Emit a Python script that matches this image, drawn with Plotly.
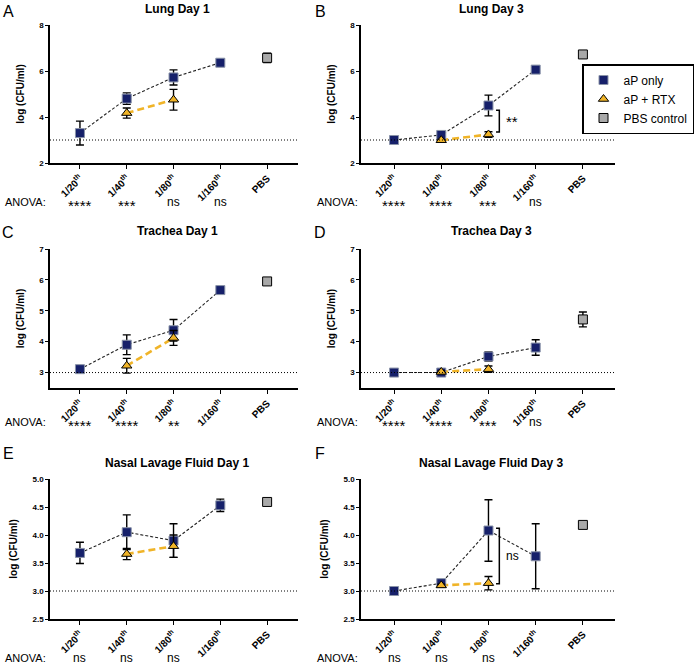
import plotly.graph_objects as go

W, H = 696, 665

categories = ["1/20", "1/40", "1/80", "1/160", "PBS"]
tick_labels = ["1/20<sup>th</sup>", "1/40<sup>th</sup>", "1/80<sup>th</sup>", "1/160<sup>th</sup>", "PBS"]

# Panel A: Lung Day 1
A_ap = [3.30, 4.80, 5.72, 6.36]
A_ap_err = [0.52, 0.25, 0.33, 0.05]
A_rtx = [None, 4.17, 4.75, None]
A_rtx_err = [0, 0.22, 0.45, 0]
A_pbs = 6.57
A_pbs_err = 0.2
A_anova = ["****", "***", "ns", "ns"]

# Panel B: Lung Day 3
B_ap = [3.00, 3.22, 4.50, 6.06]
B_ap_err = [0.04, 0.06, 0.45, 0.1]
B_rtx = [None, 2.99, 3.24, None]
B_rtx_err = [0, 0.03, 0.12, 0]
B_pbs = 6.72
B_pbs_err = 0.15
B_anova = ["****", "****", "***", "ns"]

# Panel C: Trachea Day 1
C_ap = [3.11, 3.90, 4.37, 5.67]
C_ap_err = [0.04, 0.32, 0.35, 0.04]
C_rtx = [None, 3.22, 4.12, None]
C_rtx_err = [0, 0.24, 0.24, 0]
C_pbs = 5.95
C_pbs_err = 0.06
C_anova = ["****", "****", "**"]

# Panel D: Trachea Day 3
D_ap = [3.00, 3.00, 3.52, 3.81]
D_ap_err = [0.02, 0.05, 0.15, 0.25]
D_rtx = [None, 3.02, 3.11, None]
D_rtx_err = [0, 0.03, 0.1, 0]
D_pbs = 4.72
D_pbs_err = 0.24
D_anova = ["****", "****", "***", "ns"]

# Panel E: Nasal Lavage Fluid Day 1
E_ap = [3.68, 4.05, 3.90, 4.53]
E_ap_err = [0.19, 0.31, 0.30, 0.11]
E_rtx = [None, 3.66, 3.80, None]
E_rtx_err = [0, 0.10, 0.20, 0]
E_pbs = 4.59
E_pbs_err = 0.03
E_anova = ["ns", "ns", "ns"]

# Panel F: Nasal Lavage Fluid Day 3
F_ap = [3.00, 3.14, 4.08, 3.62]
F_ap_err = [0.02, 0.03, 0.55, 0.58]
F_rtx = [None, 3.10, 3.14, None]
F_rtx_err = [0, 0.02, 0.12, 0]
F_pbs = 4.18
F_pbs_err = 0.03
F_anova = ["ns", "ns", "ns"]

lod = 3.0

NAVY = "#16206a"
GOLD = "#f0b428"
GRAY = "#a9a9a9"
FONT = "Liberation Sans, Arial, sans-serif"


def px_x(x):
    return x / W


def px_y(y):
    return 1 - y / H


panels = [
    dict(key="A", title="Lung Day 1", ap=A_ap, ape=A_ap_err, rtx=A_rtx, rtxe=A_rtx_err, pbs=A_pbs, pbse=A_pbs_err,
         anova=A_anova, col=0, row=0, yr=[2, 8], dt=2, fmt="d", bracket=None),
    dict(key="B", title="Lung Day 3", ap=B_ap, ape=B_ap_err, rtx=B_rtx, rtxe=B_rtx_err, pbs=B_pbs, pbse=B_pbs_err,
         anova=B_anova, col=1, row=0, yr=[2, 8], dt=2, fmt="d", bracket=(4.29, 3.35, "**")),
    dict(key="C", title="Trachea Day 1", ap=C_ap, ape=C_ap_err, rtx=C_rtx, rtxe=C_rtx_err, pbs=C_pbs, pbse=C_pbs_err,
         anova=C_anova, col=0, row=1, yr=[2.5, 7], dt=1, fmt="d", bracket=None),
    dict(key="D", title="Trachea Day 3", ap=D_ap, ape=D_ap_err, rtx=D_rtx, rtxe=D_rtx_err, pbs=D_pbs, pbse=D_pbs_err,
         anova=D_anova, col=1, row=1, yr=[2.5, 7], dt=1, fmt="d", bracket=None),
    dict(key="E", title="Nasal Lavage Fluid Day 1", ap=E_ap, ape=E_ap_err, rtx=E_rtx, rtxe=E_rtx_err, pbs=E_pbs,
         pbse=E_pbs_err, anova=E_anova, col=0, row=2, yr=[2.5, 5.0], dt=0.5, fmt=".1f", bracket=None),
    dict(key="F", title="Nasal Lavage Fluid Day 3", ap=F_ap, ape=F_ap_err, rtx=F_rtx, rtxe=F_rtx_err, pbs=F_pbs,
         pbse=F_pbs_err, anova=F_anova, col=1, row=2, yr=[2.5, 5.0], dt=0.5, fmt=".1f", bracket=(4.12, 3.13, "ns")),
]

# layout geometry in pixels
col_x = [(50, 298), (361, 615)]
col_range = [[-0.64, 4.66], [-0.70, 4.68]]
row_y = [(25, 163), (249, 388), (479, 619)]
title_y = [9, 231, 463]
anova_y = [202, 422, 658]
letter_y = [12, 233, 453]
letter_x = [8, 320]
anova_x = [3, 315]

fig = go.Figure()
layout = dict(
    width=W, height=H, margin=dict(l=0, r=0, t=0, b=0),
    paper_bgcolor="white", plot_bgcolor="white",
    font=dict(family=FONT, color="black"),
    showlegend=True,
    legend=dict(x=px_x(694), y=px_y(64), xanchor="right", yanchor="top",
                bordercolor="black", borderwidth=1.5, bgcolor="white",
                font=dict(size=12, family=FONT), tracegroupgap=0,
                itemwidth=30),
)
annotations = []
shapes = []

for i, p in enumerate(panels):
    n = "" if i == 0 else str(i + 1)
    xa, ya = "x" + n, "y" + n
    x0, x1 = col_x[p["col"]]
    y0, y1 = row_y[p["row"]]
    layout["xaxis" + n] = dict(
        domain=[px_x(x0), px_x(x1)], anchor=ya, type="category",
        categoryorder="array", categoryarray=categories,
        range=col_range[p["col"]], showline=True, linecolor="black", linewidth=1.5,
        ticks="outside", ticklen=4, tickwidth=1.2, tickcolor="black",
        tickvals=categories, ticktext=tick_labels,
        tickangle=-45, tickfont=dict(size=10, family=FONT, weight="bold"), showgrid=False, zeroline=False,
        automargin=False, fixedrange=True,
    )
    layout["yaxis" + n] = dict(
        domain=[px_y(y1), px_y(y0)], anchor=xa, range=p["yr"], dtick=p["dt"],
        tickformat=p["fmt"], showline=True, linecolor="black", linewidth=1.5,
        ticks="outside", ticklen=3, tickwidth=1.2, tickcolor="black",
        tickfont=dict(size=8, family=FONT, weight="bold"), showgrid=False, zeroline=False,
        title=dict(text="<b>log (CFU/ml)</b>", font=dict(size=10, family=FONT), standoff=13),
        automargin=False, fixedrange=True,
    )
    show = (p["key"] == "B")
    # lines
    fig.add_trace(go.Scatter(x=categories[:4], y=p["ap"], mode="lines", xaxis=xa, yaxis=ya,
                             line=dict(color="#222222", width=1.1, dash="3px,2px"), showlegend=False,
                             hoverinfo="skip"))
    fig.add_trace(go.Scatter(x=categories[:4], y=p["rtx"], mode="lines", xaxis=xa, yaxis=ya,
                             line=dict(color=GOLD, width=2.6, dash="7px,4px"), showlegend=False,
                             connectgaps=False, hoverinfo="skip"))
    # markers with error bars
    fig.add_trace(go.Scatter(x=categories[:4], y=p["ap"], mode="markers", xaxis=xa, yaxis=ya,
                             name="aP only", showlegend=show, legendrank=1,
                             marker=dict(symbol="square", size=9, color=NAVY,
                                         line=dict(color="#8a93a8", width=1)),
                             error_y=dict(type="data", array=p["ape"], color="black", thickness=1.4, width=4)))
    fig.add_trace(go.Scatter(x=categories[:4], y=p["rtx"], mode="markers", xaxis=xa, yaxis=ya,
                             name="aP + RTX", showlegend=show, legendrank=2,
                             marker=dict(symbol="triangle-up", size=9, color=GOLD,
                                         line=dict(color="black", width=1)),
                             error_y=dict(type="data", array=p["rtxe"], color="black", thickness=1.4, width=4)))
    fig.add_trace(go.Scatter(x=[categories[4]], y=[p["pbs"]], mode="markers", xaxis=xa, yaxis=ya,
                             name="PBS control", showlegend=show, legendrank=3,
                             marker=dict(symbol="square", size=9, color=GRAY,
                                         line=dict(color="black", width=1)),
                             error_y=dict(type="data", array=[p["pbse"]], color="black", thickness=1.4, width=4)))
    # limit of detection
    shapes.append(dict(type="line", xref=xa + " domain", yref=ya, x0=0, x1=1, y0=lod, y1=lod,
                       line=dict(color="black", width=1, dash="1px,2px")))
    # bracket
    if p["bracket"]:
        top, bot, lab = p["bracket"]
        bx, arm = 2.23, 0.07
        shapes.append(dict(type="path", xref=xa, yref=ya,
                           path="M %f,%f L %f,%f L %f,%f L %f,%f" % (bx - arm, top, bx, top, bx, bot, bx - arm, bot),
                           line=dict(color="black", width=1.5)))
        annotations.append(dict(x=bx + 0.1, y=(top + bot) / 2, xref=xa, yref=ya, text=lab,
                                showarrow=False, xanchor="left", yanchor="middle",
                                font=dict(size=12 if lab == "ns" else 15, family=FONT)))
    # title
    annotations.append(dict(x=px_x((x0 + x1) / 2 + 3), y=px_y(title_y[p["row"]]), xref="paper", yref="paper",
                            text="<b>%s</b>" % p["title"], showarrow=False, xanchor="center",
                            yanchor="middle", font=dict(size=12, family=FONT)))
    # letter
    annotations.append(dict(x=px_x(letter_x[p["col"]]), y=px_y(letter_y[p["row"]]), xref="paper",
                            yref="paper", text=p["key"], showarrow=False, xanchor="center",
                            yanchor="middle", font=dict(size=16, family=FONT)))
    # ANOVA row
    annotations.append(dict(x=px_x(anova_x[p["col"]]), y=px_y(anova_y[p["row"]]), xref="paper",
                            yref="paper", text="ANOVA:", showarrow=False, xanchor="left",
                            yanchor="middle", font=dict(size=11, family=FONT)))
    for c, s in zip(categories, p["anova"]):
        is_ns = (s == "ns")
        annotations.append(dict(x=c, y=px_y(anova_y[p["row"]] + (0 if is_ns else 3)), xref=xa, yref="paper",
                                text=s, showarrow=False, xanchor="center", yanchor="middle",
                                font=dict(size=12 if is_ns else 15, family=FONT)))

layout["annotations"] = annotations
layout["shapes"] = shapes
fig.update_layout(**layout)
fig.write_html("out.html", config={"displayModeBar": False},
               post_script="document.body.style.margin='0';document.body.style.overflow='hidden';")
